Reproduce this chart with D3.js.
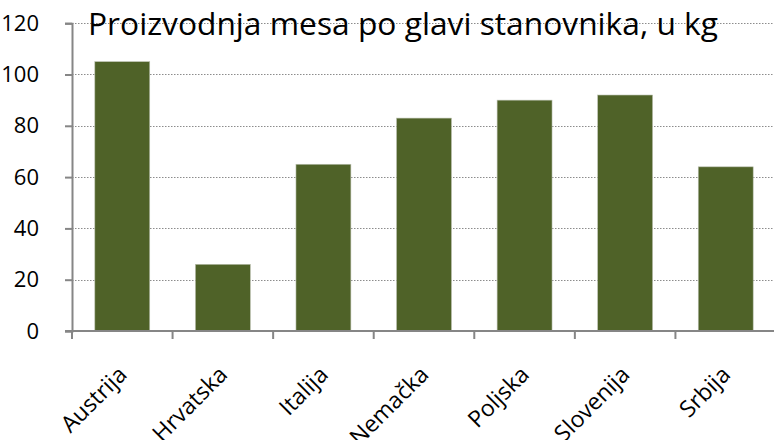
<!DOCTYPE html>
<html>
<head>
<meta charset="utf-8">
<script src="https://cdn.jsdelivr.net/npm/d3@7"></script>
<style>
  body { margin: 0; background: #fff; }
  svg { display: block; font-family: "Open Sans", sans-serif; }
</style>
</head>
<body>
<script>
// données
const countries = ["Austrija", "Hrvatska", "Italija", "Nemačka", "Poljska", "Slovenija", "Srbija"];
const meat = [105, 26, 65, 83, 90, 92, 64];
const yTicks = [0, 20, 40, 60, 80, 100, 120];
const title = "Proizvodnja mesa po glavi stanovnika, u kg";

const WIDTH = 774;
const HEIGHT = 440;
const plotLeft = 72, plotRight = 776, plotTop = 23.2, plotBottom = 331;

const svg = d3.select("body").append("svg")
  .attr("width", WIDTH)
  .attr("height", HEIGHT);

const x = d3.scaleBand().domain(countries).range([plotLeft, plotRight]).paddingInner(0.454).paddingOuter(0.227);
const y = d3.scaleLinear().domain([0, 120]).range([plotBottom, plotTop]);

// grille pointillée
svg.append("g")
  .selectAll("line")
  .data(yTicks.filter(d => d > 0))
  .enter()
  .append("line")
  .attr("x1", plotLeft)
  .attr("x2", WIDTH)
  .attr("y1", d => Math.round(y(d)) + 0.5)
  .attr("y2", d => Math.round(y(d)) + 0.5)
  .attr("stroke", "#8c8c8c")
  .attr("stroke-width", 1)
  .attr("stroke-dasharray", "1.5,1.5");

// barres
svg.append("g")
  .selectAll("rect")
  .data(meat)
  .enter()
  .append("rect")
  .attr("x", (d, i) => x(countries[i]))
  .attr("y", d => y(d))
  .attr("width", x.bandwidth())
  .attr("height", d => plotBottom - y(d))
  .attr("fill", "#4f6228")
  .attr("stroke", "#b9bfae")
  .attr("stroke-width", 0.6);

// axe Y
const yAxis = svg.append("g")
  .attr("transform", `translate(${plotLeft},0)`)
  .call(d3.axisLeft(y).tickValues(yTicks).tickSize(7).tickPadding(26).tickFormat(d3.format("d")));
yAxis.select(".domain").attr("stroke", "#868686").attr("stroke-width", 2);
yAxis.selectAll(".tick line").attr("stroke", "#868686").attr("stroke-width", 2);
yAxis.selectAll("text")
  .attr("fill", "#000")
  .style("font-size", "22px")
  .style("font-family", "'Open Sans', sans-serif");

// axe X
const xAxis = svg.append("g")
  .attr("transform", `translate(0,${plotBottom})`);
xAxis.append("line")
  .attr("x1", plotLeft - 7).attr("x2", WIDTH)
  .attr("y1", 0).attr("y2", 0)
  .attr("stroke", "#868686").attr("stroke-width", 2);
xAxis.selectAll("line.tk")
  .data(d3.range(countries.length))
  .enter()
  .append("line")
  .attr("class", "tk")
  .attr("x1", i => x(countries[i]) - x.step() * x.paddingInner() / 2)
  .attr("x2", i => x(countries[i]) - x.step() * x.paddingInner() / 2)
  .attr("y1", 0).attr("y2", 8)
  .attr("stroke", "#868686").attr("stroke-width", 2);

xAxis.selectAll("text")
  .data(countries)
  .enter()
  .append("text")
  .attr("text-anchor", "end")
  .attr("transform", d => `translate(${x(d) + x.bandwidth() / 2 + 6},${45}) rotate(-45)`)
  .style("font-size", "23px")
  .text(d => d);

// titre
const t = svg.append("text")
  .attr("x", 403)
  .attr("y", 35)
  .attr("text-anchor", "middle")
  .style("font-size", "31px")
  .text(title);
t.attr("textLength", 630).attr("lengthAdjust", "spacingAndGlyphs");
</script>
</body>
</html>
